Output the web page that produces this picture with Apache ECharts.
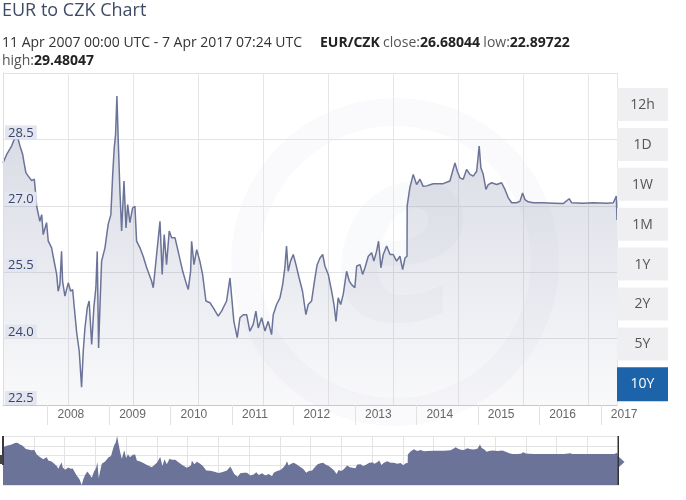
<!DOCTYPE html>
<html><head><meta charset="utf-8">
<script src="https://cdn.jsdelivr.net/npm/echarts@6/dist/echarts.min.js"></script>
<style>html,body{margin:0;padding:0;background:#fff}#c{width:686px;height:500px}</style>
</head><body><div id="c"></div>
<script>
const dates = [
'2007-04-11','2007-05-03','2007-06-01','2007-06-21','2007-07-05','2007-07-21','2007-08-06','2007-08-13','2007-08-25','2007-09-08',
'2007-09-28','2007-10-14','2007-10-18','2007-10-28','2007-11-16','2007-11-27','2007-12-06','2007-12-26','2008-01-05','2008-01-25',
'2008-02-03','2008-02-24','2008-03-04','2008-03-14','2008-03-24','2008-03-30','2008-04-13','2008-05-03','2008-05-17','2008-05-29',
'2008-06-06','2008-06-22','2008-07-07','2008-07-21','2008-07-31','2008-08-10','2008-08-24','2008-09-04','2008-09-19','2008-10-02',
'2008-10-14','2008-10-22','2008-10-30','2008-11-07','2008-11-17','2008-12-07','2008-12-26','2009-01-11','2009-01-22','2009-01-31',
'2009-02-08','2009-02-16','2009-02-24','2009-03-06','2009-03-16','2009-03-30','2009-04-11','2009-04-21','2009-05-04','2009-05-20',
'2009-06-03','2009-06-13','2009-07-03','2009-07-22','2009-08-12','2009-09-10','2009-09-20','2009-10-10','2009-10-30','2009-11-12',
'2009-11-24','2009-12-08','2009-12-24','2010-01-07','2010-01-27','2010-02-15','2010-03-14','2010-04-06','2010-04-16','2010-04-30',
'2010-05-06','2010-05-20','2010-06-05','2010-06-24','2010-07-10','2010-07-30','2010-08-23','2010-09-11','2010-10-11','2010-10-31',
'2010-11-30','2010-12-20','2010-12-30','2011-01-12','2011-02-01','2011-02-17','2011-03-09','2011-03-29','2011-04-17','2011-05-07',
'2011-05-23','2011-06-06','2011-06-26','2011-07-16','2011-08-04','2011-08-24','2011-09-03','2011-09-23','2011-10-13','2011-10-29',
'2011-11-11','2011-11-21','2011-12-01','2011-12-15','2011-12-31','2012-01-16','2012-02-04','2012-02-24','2012-03-15','2012-03-29',
'2012-04-18','2012-05-08','2012-05-21','2012-06-07','2012-06-23','2012-07-06','2012-07-26','2012-08-15','2012-08-29','2012-09-10',
'2012-09-23','2012-10-08','2012-10-23','2012-11-12','2012-11-28','2012-12-12','2012-12-31','2013-01-11','2013-01-31','2013-02-15',
'2013-03-01','2013-03-21','2013-04-10','2013-04-23','2013-05-09','2013-05-21','2013-06-04','2013-06-18','2013-07-08','2013-07-28',
'2013-08-16','2013-09-05','2013-09-25','2013-10-11','2013-10-25','2013-11-06','2013-11-07','2013-11-23','2013-12-13','2014-01-02',
'2014-01-22','2014-02-10','2014-03-03','2014-04-11','2014-06-09','2014-07-19','2014-08-04','2014-08-18','2014-09-01','2014-09-17',
'2014-10-06','2014-10-26','2014-11-15','2014-12-05','2014-12-25','2015-01-09','2015-01-19','2015-02-02','2015-02-18','2015-03-04',
'2015-03-24','2015-04-23','2015-05-22','2015-06-11','2015-07-01','2015-07-21','2015-08-19','2015-09-08','2015-09-24','2015-10-08',
'2015-10-27','2015-11-26','2016-01-25','2016-03-24','2016-05-22','2016-06-27','2016-07-11','2016-09-18','2016-11-17','2017-02-04',
'2017-03-16','2017-04-03','2017-04-07'];

const rates = [
27.97,28.16,28.35,28.54,28.57,28.35,28.16,28.00,27.75,27.67,
27.57,27.60,27.44,26.99,26.65,26.80,26.35,26.62,26.20,26.05,
25.86,25.45,25.07,25.22,25.97,25.30,24.96,25.26,25.07,25.11,
24.77,24.13,23.72,22.90,23.72,24.24,24.70,24.85,23.87,24.70,
25.15,25.97,23.79,24.70,25.75,26.05,26.58,26.80,27.71,28.31,
28.61,29.48,28.46,27.33,26.43,27.56,26.50,27.03,26.62,26.95,
26.99,26.20,26.05,25.86,25.60,25.30,25.15,25.90,26.65,25.45,
26.35,25.67,26.43,26.28,26.28,25.97,25.52,25.22,25.11,25.52,
26.20,25.67,26.01,25.75,25.45,24.85,24.81,24.70,24.51,24.62,
24.85,25.37,25.33,24.39,24.02,24.47,24.54,24.54,24.17,24.32,
24.62,24.24,24.47,24.17,24.39,24.09,24.54,24.77,24.92,25.22,
25.60,26.09,25.52,25.75,25.90,25.67,25.37,25.07,24.54,24.77,
24.85,25.37,25.67,25.82,25.90,25.64,25.45,25.07,24.77,24.39,
24.92,24.77,25.00,25.52,25.30,25.22,25.15,25.64,25.67,25.45,
25.60,25.86,25.94,25.75,25.97,26.20,25.60,25.90,26.09,25.90,
25.90,25.75,25.86,25.56,25.82,25.86,27.00,27.41,27.71,27.48,
27.60,27.44,27.45,27.50,27.50,27.56,27.78,27.97,27.78,27.63,
27.60,27.82,27.71,27.67,27.78,28.35,27.86,27.71,27.37,27.48,
27.52,27.48,27.52,27.37,27.18,27.07,27.07,27.10,27.29,27.14,
27.09,27.07,27.07,27.06,27.05,27.16,27.07,27.06,27.07,27.06,
27.07,27.22,26.68];

const yMin = 22.5, yMax = 30, yStep = 1.5;
const rangeButtons = ['12h','1D','1W','1M','1Y','2Y','5Y','10Y'];
const selectedRange = '10Y';
const titleText = 'EUR to CZK Chart';
const periodText = '11 Apr 2007 00:00 UTC - 7 Apr 2017 07:24 UTC';
const pairText = 'EUR/CZK';
const closeText = '26.68044';
const lowText = '22.89722';
const highText = '29.48047';

const seriesData = dates.map((d, i) => [d, rates[i]]);
const xStart = dates[0], xEnd = dates[dates.length - 1];
const lineColor = '#6b7399';
const font = 'Open Sans';
const DAY = 86400000;

const hiddenAxis = { axisLine:{show:false}, axisTick:{show:false}, axisLabel:{show:false} };

const graphics = [];
// watermark
graphics.push({type:'circle', silent:true, z:-10, shape:{cx:395, cy:262, r:150},
  style:{fill:'none', stroke:'rgba(70,80,130,0.028)', lineWidth:28}});
graphics.push({type:'text', silent:true, z:-10, x:400, y:250,
  style:{text:'e', fontSize:250, fontWeight:'bold', fontStyle:'italic', fontFamily:font,
         fill:'rgba(70,80,130,0.03)', align:'center', verticalAlign:'middle'}});
// header
graphics.push({type:'text', x:2, y:11, style:{text:titleText, fontSize:18, fontFamily:font, fill:'#3f4b66', verticalAlign:'middle'}});
graphics.push({type:'text', x:2, y:43, style:{text:periodText, fontSize:14, fontFamily:font, fill:'#333', verticalAlign:'middle'}});
const rich = { n:{fontSize:14, fontFamily:font, fill:'#555', color:'#555'}, b:{fontSize:14, fontFamily:font, fontWeight:'bold', fill:'#222', color:'#222'} };
graphics.push({type:'text', x:320, y:43, style:{text:'{b|' + pairText + '} {n|close:}{b|' + closeText + '} {n|low:}{b|' + lowText + '}', rich, verticalAlign:'middle'}});
graphics.push({type:'text', x:2, y:61, style:{text:'{n|high:}{b|' + highText + '}', rich, verticalAlign:'middle'}});
// range buttons
rangeButtons.forEach((lab, i) => {
  const top = 88 + i * 39.9;
  const sel = lab === selectedRange;
  graphics.push({type:'rect', z:10, shape:{x:617, y:top, width:51, height: sel ? 34 : 33}, style:{fill: sel ? '#1c63a9' : '#efeff2'}});
  graphics.push({type:'text', z:11, x:642.5, y:top + 17, style:{text:lab, fill: sel ? '#fff' : '#555', fontSize:14, fontFamily:font, align:'center', verticalAlign:'middle'}});
});
// navigator handles
graphics.push({type:'rect', z:10, shape:{x:2, y:436, width:2, height:29}, style:{fill:'#3a3a3a'}});
graphics.push({type:'rect', z:10, shape:{x:0, y:455, width:3, height:9}, style:{fill:'#444'}});
graphics.push({type:'rect', z:10, shape:{x:617.5, y:436, width:1.5, height:49}, style:{fill:'#333'}});
graphics.push({type:'polygon', z:10, shape:{points:[[619,457],[624.5,462],[619,467]]}, style:{fill:lineColor}});

const option = {
  animation: false,
  backgroundColor: '#fff',
  graphic: { elements: graphics },
  grid: [
    {left:3, right:69, top:73, height:332},
    {left:3, right:68, top:436, height:49}
  ],
  xAxis: [
    {type:'time', gridIndex:0, min:xStart, max:xEnd, splitNumber:10,
     minInterval:365*DAY, maxInterval:366*DAY,
     axisLine:{show:true, lineStyle:{color:'#c8c8c8'}},
     axisTick:{show:true, length:20, lineStyle:{color:'#e2e2e2'}},
     axisLabel:{formatter:'{yyyy}', align:'left', padding:[0,0,0,10], color:'#666', fontSize:12,
                fontFamily:'Liberation Sans', margin:4, showMinLabel:false, showMaxLabel:false},
     splitLine:{show:false}},
    Object.assign({type:'value', gridIndex:0, min:0, max:614/65, interval:1,
     splitLine:{show:true, lineStyle:{color:'#e6e6e6'}}}, hiddenAxis),
    {type:'time', gridIndex:1, min:xStart, max:xEnd, show:false},
    Object.assign({type:'value', gridIndex:1, min:0, max:20, interval:1,
     splitLine:{show:true, lineStyle:{color:'#e3e3e3'}}}, hiddenAxis)
  ],
  yAxis: [
    {type:'value', gridIndex:0, min:yMin, max:yMax, interval:yStep, z:5,
     axisLine:{show:true, lineStyle:{color:'#dedede'}}, axisTick:{show:false}, splitLine:{show:false},
     axisLabel:{inside:true, showMaxLabel:false, formatter:v => v.toFixed(1), color:'#38446e', fontSize:13,
                fontFamily:font, backgroundColor:'#e3e5ef', padding:[1,3,0,3], verticalAlign:'bottom', margin:2}},
    Object.assign({type:'value', gridIndex:0, min:yMin, max:yMax, interval:yStep,
     splitLine:{show:true, lineStyle:{color:'#e3e3e3'}}}, hiddenAxis),
    {type:'value', gridIndex:1, min:'dataMin', max:'dataMax', show:false, splitLine:{show:false}},
    Object.assign({type:'value', gridIndex:1, min:0, max:5, interval:1,
     splitLine:{show:true, lineStyle:{color:'#e3e3e3'}}}, hiddenAxis)
  ],
  series: [
    {type:'line', xAxisIndex:0, yAxisIndex:0, data:seriesData, symbol:'none', z:2,
     lineStyle:{color:lineColor, width:1.5},
     areaStyle:{color:new echarts.graphic.LinearGradient(0,0,0,1,[
       {offset:0, color:'rgba(107,115,153,0.40)'},{offset:1, color:'rgba(107,115,153,0.06)'}])}},
    {type:'line', xAxisIndex:2, yAxisIndex:2, data:seriesData, symbol:'none',
     lineStyle:{width:0}, areaStyle:{color:lineColor, opacity:1}}
  ]
};
const chart = echarts.init(document.getElementById('c'), null, {renderer:'canvas'});
chart.setOption(option);
</script>
</body></html>
